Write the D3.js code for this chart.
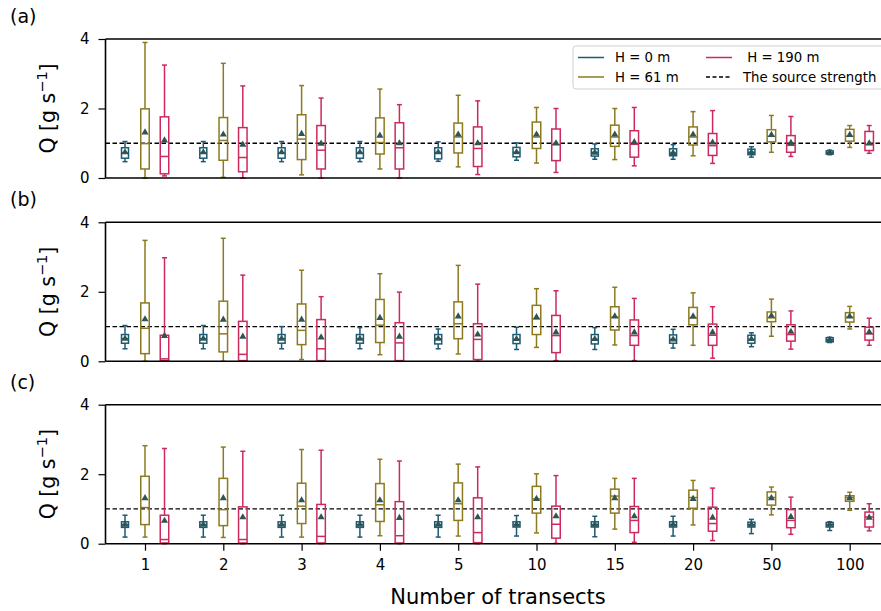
<!DOCTYPE html>
<html>
<head>
<meta charset="utf-8">
<script src="https://cdn.jsdelivr.net/npm/d3@7"></script>
<style>
body{margin:0;background:#fff;}
svg{display:block;font-family:"DejaVu Sans",sans-serif;}
</style>
</head>
<body>
<svg id="c" width="881" height="611"></svg>
<script>
const categories = ["1","2","3","4","5","10","15","20","50","100"];
const seriesNames = ["H = 0 m","H = 61 m"," H = 190 m"];
const seriesColors = ["#1d5a73","#8c7a1e","#cc2a5f"];
const panels = ["(a)","(b)","(c)"];
const yTicks = [0,2,4];
const sourceStrength = 1;

// each box: [lowWhisker, q1, median, q3, highWhisker, mean]
// Panel (a)
const a_H0 = [
 [0.47,0.57,0.72,0.87,1.05,0.74],[0.47,0.57,0.72,0.87,1.05,0.74],[0.47,0.57,0.72,0.87,1.05,0.74],
 [0.47,0.57,0.72,0.87,1.05,0.74],[0.48,0.55,0.73,0.87,1.04,0.74],[0.51,0.61,0.74,0.88,1.01,0.74],
 [0.54,0.63,0.74,0.84,0.98,0.73],[0.54,0.64,0.72,0.84,0.96,0.72],[0.60,0.67,0.74,0.83,0.90,0.74],
 [0.67,0.69,0.73,0.78,0.80,0.73]];
const a_H61 = [
 [0.0,0.26,0.99,1.99,3.90,1.31],[0.02,0.51,1.08,1.74,3.30,1.25],[0.09,0.53,1.12,1.82,2.66,1.27],
 [0.26,0.69,1.02,1.73,2.56,1.22],[0.32,0.72,1.18,1.58,2.38,1.25],[0.43,0.85,1.18,1.61,2.03,1.25],
 [0.53,0.91,1.18,1.52,2.00,1.25],[0.64,0.95,1.18,1.47,1.91,1.25],[0.74,1.04,1.20,1.39,1.80,1.24],
 [0.88,1.06,1.20,1.40,1.51,1.24]];
const a_H190 = [
 [0.06,0.12,0.62,1.76,3.25,1.08],[0.0,0.18,0.59,1.45,2.65,0.96],[0.0,0.26,0.80,1.51,2.30,0.99],
 [0.0,0.26,0.87,1.59,2.11,1.00],[0.10,0.33,0.85,1.47,2.22,1.00],[0.16,0.50,0.96,1.41,2.00,1.00],
 [0.35,0.60,0.97,1.36,2.03,1.03],[0.42,0.65,0.93,1.28,1.94,1.02],[0.62,0.74,0.94,1.22,1.77,1.01],
 [0.71,0.79,0.96,1.34,1.51,1.00]];
// Panel (b)
const b_H0 = [
 [0.36,0.52,0.65,0.77,1.03,0.65],[0.36,0.52,0.65,0.77,1.03,0.65],[0.36,0.52,0.65,0.77,1.00,0.65],
 [0.36,0.52,0.65,0.77,0.97,0.65],[0.36,0.50,0.65,0.77,0.93,0.65],[0.34,0.51,0.63,0.77,0.98,0.64],
 [0.34,0.50,0.63,0.77,0.97,0.64],[0.38,0.52,0.63,0.76,0.92,0.63],[0.42,0.52,0.63,0.75,0.82,0.64],
 [0.54,0.56,0.62,0.68,0.69,0.62]];
const b_H61 = [
 [0.0,0.22,0.95,1.68,3.48,1.21],[0.0,0.27,0.79,1.73,3.54,1.20],[0.05,0.48,0.89,1.65,2.62,1.20],
 [0.19,0.54,1.04,1.78,2.52,1.25],[0.21,0.65,1.08,1.71,2.76,1.29],[0.40,0.77,1.22,1.61,2.09,1.27],
 [0.47,0.90,1.27,1.57,2.13,1.29],[0.46,1.05,1.25,1.55,1.97,1.29],[0.72,1.14,1.25,1.42,1.79,1.31],
 [0.93,1.13,1.27,1.40,1.58,1.29]];
const b_H190 = [
 [0.0,0.02,0.07,0.75,2.98,0.73],[0.0,0.02,0.20,1.15,2.48,0.71],[0.0,0.02,0.36,1.20,1.86,0.69],
 [0.0,0.02,0.53,1.11,1.99,0.71],[0.0,0.05,0.63,1.08,2.22,0.77],[0.02,0.25,0.74,1.32,2.03,0.83],
 [0.02,0.46,0.74,1.19,1.81,0.83],[0.09,0.46,0.75,1.07,1.57,0.83],[0.35,0.58,0.77,1.05,1.45,0.85],
 [0.46,0.61,0.79,0.98,1.24,0.84]];
// Panel (c)
const c_H0 = [
 [0.19,0.47,0.55,0.63,0.82,0.55],[0.19,0.47,0.55,0.63,0.82,0.55],[0.19,0.47,0.55,0.63,0.82,0.55],
 [0.19,0.47,0.55,0.63,0.82,0.55],[0.19,0.47,0.55,0.63,0.82,0.55],[0.22,0.48,0.55,0.63,0.81,0.55],
 [0.20,0.48,0.55,0.63,0.79,0.55],[0.22,0.48,0.55,0.63,0.79,0.55],[0.29,0.48,0.55,0.62,0.70,0.55],
 [0.38,0.48,0.55,0.61,0.63,0.55]];
const c_H61 = [
 [0.19,0.55,1.04,1.94,2.82,1.31],[0.18,0.52,0.98,1.88,2.78,1.31],[0.19,0.58,1.08,1.74,2.71,1.25],
 [0.23,0.64,1.12,1.73,2.43,1.25],[0.22,0.67,1.15,1.75,2.29,1.25],[0.31,0.88,1.29,1.65,2.01,1.29],
 [0.42,0.88,1.37,1.57,1.88,1.31],[0.54,1.02,1.33,1.54,1.82,1.29],[0.83,1.11,1.33,1.49,1.63,1.31],
 [0.96,1.22,1.33,1.38,1.48,1.31]];
const c_H190 = [
 [0.0,0.02,0.12,0.82,2.74,0.66],[0.0,0.02,0.12,1.06,2.66,0.76],[0.0,0.02,0.21,1.13,2.69,0.76],
 [0.0,0.02,0.23,1.21,2.38,0.74],[0.0,0.03,0.32,1.32,2.21,0.76],[0.01,0.16,0.56,1.08,1.96,0.79],
 [0.04,0.32,0.67,1.07,1.88,0.79],[0.09,0.36,0.58,1.05,1.60,0.75],[0.27,0.46,0.67,0.98,1.34,0.77],
 [0.37,0.48,0.77,0.91,1.15,0.75]];

const panelData = [[a_H0,a_H61,a_H190],[b_H0,b_H61,b_H190],[c_H0,c_H61,c_H190]];

const svg = d3.select("#c");
const left = 105.5, right = 889;
const panelTops = [39, 222.3, 404.7];
const panelH = 139;
const x = d3.scalePoint().domain(categories).range([145, 849.7]);
const offsets = [-20, 0, 19.5];
const boxW = [7, 8.5, 8.5];
const capW = 5;
const meanColor = "#2f5454";

panelData.forEach((series, p) => {
  const top = panelTops[p];
  const y = d3.scaleLinear().domain([0,4]).range([top+panelH, top]);
  const g = svg.append("g");

  g.append("line").attr("x1",left).attr("x2",right)
    .attr("y1",y(sourceStrength)).attr("y2",y(sourceStrength))
    .attr("stroke","#000").attr("stroke-width",1.3).attr("stroke-dasharray","4.5,2.5");

  series.forEach((data, s) => {
    const col = seriesColors[s];
    data.forEach((d, i) => {
      const cx = x(categories[i]) + offsets[s];
      const w = boxW[s];
      const bg = g.append("g");
      bg.append("line").attr("x1",cx).attr("x2",cx).attr("y1",y(d[0])).attr("y2",y(d[1]))
        .attr("stroke",col).attr("stroke-width",1.5);
      bg.append("line").attr("x1",cx).attr("x2",cx).attr("y1",y(d[3])).attr("y2",y(d[4]))
        .attr("stroke",col).attr("stroke-width",1.5);
      [d[0], d[4]].forEach(v => bg.append("line").attr("x1",cx-capW/2).attr("x2",cx+capW/2)
        .attr("y1",y(v)).attr("y2",y(v)).attr("stroke",col).attr("stroke-width",1.5));
      bg.append("rect").attr("x",cx-w/2).attr("width",w)
        .attr("y",y(d[3])).attr("height",Math.max(0.5,y(d[1])-y(d[3])))
        .attr("fill","none").attr("stroke",col).attr("stroke-width",1.5);
      bg.append("line").attr("x1",cx-w/2).attr("x2",cx+w/2).attr("y1",y(d[2])).attr("y2",y(d[2]))
        .attr("stroke",col).attr("stroke-width",1.5);
      bg.append("path").attr("d", d3.symbol().type(d3.symbolTriangle).size(22)())
        .attr("transform",`translate(${cx},${y(d[5])})`).attr("fill",meanColor);
    });
  });

  g.append("line").attr("x1",left).attr("x2",right).attr("y1",top).attr("y2",top)
    .attr("stroke","#000").attr("stroke-width",1.6);
  g.append("line").attr("x1",left).attr("x2",right).attr("y1",top+panelH).attr("y2",top+panelH)
    .attr("stroke","#000").attr("stroke-width",1.6);
  g.append("line").attr("x1",left).attr("x2",left).attr("y1",top).attr("y2",top+panelH)
    .attr("stroke","#000").attr("stroke-width",1.6);

  const ya = g.append("g").attr("transform",`translate(${left},0)`)
    .call(d3.axisLeft(y).tickValues(yTicks).tickSize(7).tickPadding(9).tickFormat(d3.format("d")));
  ya.select(".domain").remove();
  ya.selectAll("line").attr("stroke","#000").attr("stroke-width",1.2);
  ya.selectAll("text").attr("font-size",15).attr("fill","#000").attr("font-family","DejaVu Sans");

  const yl = g.append("text").attr("transform",`translate(55,${top+panelH/2}) rotate(-90)`)
    .attr("text-anchor","middle").attr("font-size",20.5).attr("fill","#000");
  yl.append("tspan").text("Q [g s");
  yl.append("tspan").text("\u22121").attr("font-size",14.5).attr("dy",-8);
  yl.append("tspan").text("]").attr("dy",8);

  g.append("text").attr("x",10).attr("y",top-16).attr("font-size",19).attr("fill","#000").text(panels[p]);

  if (p === 2) {
    const xa = g.append("g").attr("transform",`translate(0,${top+panelH})`)
      .call(d3.axisBottom(x).tickSize(7).tickPadding(9));
    xa.select(".domain").remove();
    xa.selectAll("line").attr("stroke","#000").attr("stroke-width",1.2);
    xa.selectAll("text").attr("font-size",15).attr("fill","#000").attr("font-family","DejaVu Sans");
  }
});

svg.append("text").attr("x",498).attr("y",604).attr("text-anchor","middle")
  .attr("font-size",21).attr("fill","#000").text("Number of transects");

const lg = svg.append("g").attr("transform","translate(573,46)");
lg.append("rect").attr("x",0).attr("y",0).attr("width",330).attr("height",43).attr("rx",3)
  .attr("fill","#fff").attr("fill-opacity",0.85).attr("stroke","#d0d0d0").attr("stroke-width",1);
const legendItems = [
  {label: seriesNames[0], color: seriesColors[0], dash: null, col: 0, row: 0},
  {label: seriesNames[1], color: seriesColors[1], dash: null, col: 0, row: 1},
  {label: seriesNames[2], color: seriesColors[2], dash: null, col: 1, row: 0},
  {label: "The source strength", color: "#000", dash: "4,2.5", col: 1, row: 1}
];
legendItems.forEach(it => {
  const lx = it.col === 0 ? 5 : 133;
  const ly = it.row === 0 ? 11.5 : 31;
  lg.append("line").attr("x1",lx).attr("x2",lx+26).attr("y1",ly).attr("y2",ly)
    .attr("stroke",it.color).attr("stroke-width",1.5).attr("stroke-dasharray",it.dash);
  lg.append("text").attr("x",lx+37).attr("y",ly+4.5).attr("font-size",13.3).attr("fill","#000")
    .attr("xml:space","preserve").style("white-space","pre").text(it.label);
});
</script>
</body>
</html>
